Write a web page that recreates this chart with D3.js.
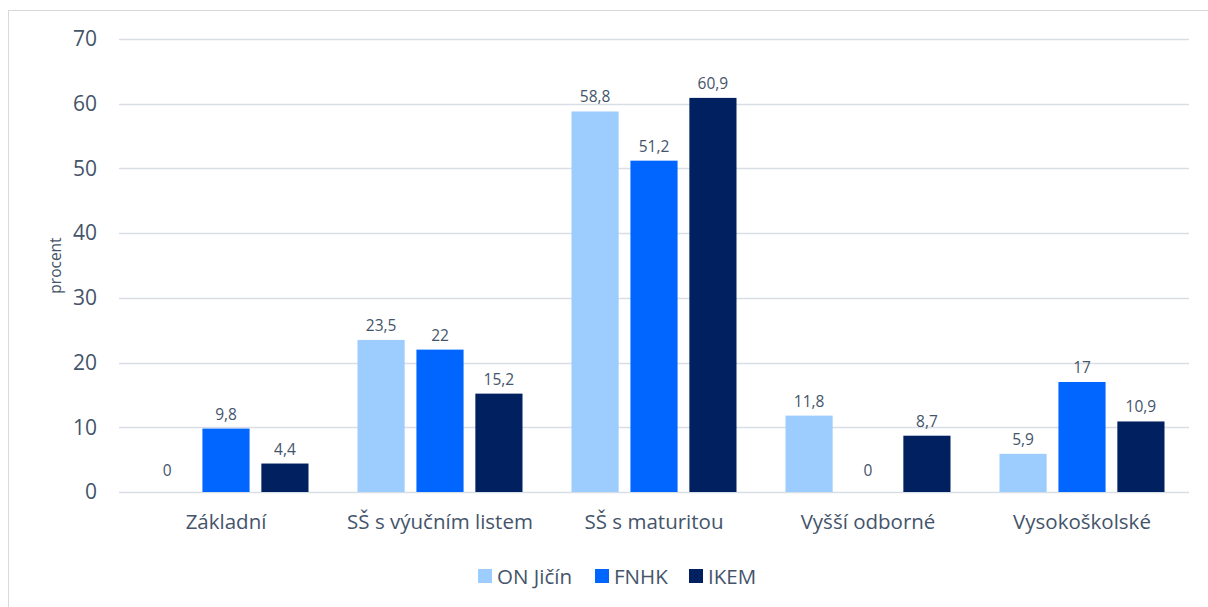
<!DOCTYPE html>
<html>
<head>
<meta charset="utf-8">
<script src="https://cdn.jsdelivr.net/npm/d3@7"></script>
<style>
  html, body { margin: 0; padding: 0; background: #fff; }
  svg { display: block; font-family: "Open Sans", "Noto Sans", sans-serif; }
</style>
</head>
<body>
<svg id="chart" width="1208" height="607"></svg>
<script>
// Education level of respondents by hospital (percent)
const categories = ["Základní", "SŠ s výučním listem", "SŠ s maturitou", "Vyšší odborné", "Vysokoškolské"];
const seriesNames = ["ON Jičín", "FNHK", "IKEM"];
const onJicin = [0, 23.5, 58.8, 11.8, 5.9];
const fnhk = [9.8, 22, 51.2, 0, 17];
const ikem = [4.4, 15.2, 60.9, 8.7, 10.9];
const yTicks = [0, 10, 20, 30, 40, 50, 60, 70];
const colors = ["#9DCCFE", "#0066FF", "#002060"];

const seriesValues = [onJicin, fnhk, ikem];
const textColor = "#44546A";

const svg = d3.select("#chart");

// outer frame
svg.append("rect")
  .attr("x", 8.5).attr("y", 10.5)
  .attr("width", 1220).attr("height", 620)
  .attr("fill", "none").attr("stroke", "#D9D9D9").attr("stroke-width", 1);

const plot = { left: 119, right: 1189, top: 39, bottom: 492 };

const x0 = d3.scaleBand().domain(categories).range([plot.left, plot.right]).paddingInner(0).paddingOuter(0);
const x1 = d3.scaleBand().domain(seriesNames).range([24.5, x0.bandwidth() - 24.5]).paddingInner(0.2);
const y = d3.scaleLinear().domain([0, 70]).range([plot.bottom, plot.top]);

// gridlines
svg.append("g").selectAll("line").data(yTicks).join("line")
  .attr("x1", plot.left).attr("x2", plot.right)
  .attr("y1", d => Math.round(y(d)) + 0.5).attr("y2", d => Math.round(y(d)) + 0.5)
  .attr("stroke", "#D9DEE6").attr("stroke-width", 1.3);

// y axis labels
const yAxis = d3.axisLeft(y).tickValues(yTicks).tickSize(0).tickPadding(0);
const gy = svg.append("g").attr("transform", `translate(97,0)`).call(yAxis);
gy.select(".domain").remove();
gy.selectAll("text").attr("fill", textColor).attr("font-size", 21)
  .attr("font-family", "'Open Sans', sans-serif");

// y axis title
svg.append("text")
  .attr("transform", `translate(61,${(plot.top + plot.bottom) / 2}) rotate(-90)`)
  .attr("text-anchor", "middle")
  .attr("fill", textColor).attr("font-size", 15.5)
  .text("procent");

// x axis labels
const xAxis = d3.axisBottom(x0).tickSize(0).tickPadding(0);
const gx = svg.append("g").attr("transform", `translate(0,${plot.bottom + 22})`).call(xAxis);
gx.select(".domain").remove();
gx.selectAll("text").attr("fill", textColor).attr("font-size", 20.5)
  .attr("font-family", "'Open Sans', sans-serif");

// bars and value labels
const groups = svg.append("g").selectAll("g").data(categories).join("g")
  .attr("transform", d => `translate(${x0(d)},0)`);

const fmt = v => String(v).replace(".", ",");

groups.each(function(cat, ci) {
  const g = d3.select(this);
  const items = seriesNames.map((s, si) => ({ s, si, v: seriesValues[si][ci] }));
  g.selectAll("rect").data(items).join("rect")
    .attr("x", d => x1(d.s))
    .attr("y", d => y(d.v))
    .attr("width", x1.bandwidth())
    .attr("height", d => y(0) - y(d.v))
    .attr("fill", d => colors[d.si]);
  g.selectAll("text").data(items).join("text")
    .attr("x", d => x1(d.s) + x1.bandwidth() / 2)
    .attr("y", d => y(d.v) - (d.v === 0 ? 16 : 9))
    .attr("text-anchor", "middle")
    .attr("fill", textColor).attr("font-size", 15.5)
    .text(d => fmt(d.v));
});

// legend
const legendItems = [
  { name: seriesNames[0], x: 478 },
  { name: seriesNames[1], x: 595 },
  { name: seriesNames[2], x: 689 }
];
const lg = svg.append("g").selectAll("g").data(legendItems).join("g")
  .attr("transform", d => `translate(${d.x},569)`);
lg.append("rect").attr("width", 14).attr("height", 14)
  .attr("fill", (d, i) => colors[i]);
lg.append("text").attr("x", 19).attr("y", 15)
  .attr("fill", textColor).attr("font-size", 20.5)
  .text(d => d.name);
</script>
</body>
</html>
